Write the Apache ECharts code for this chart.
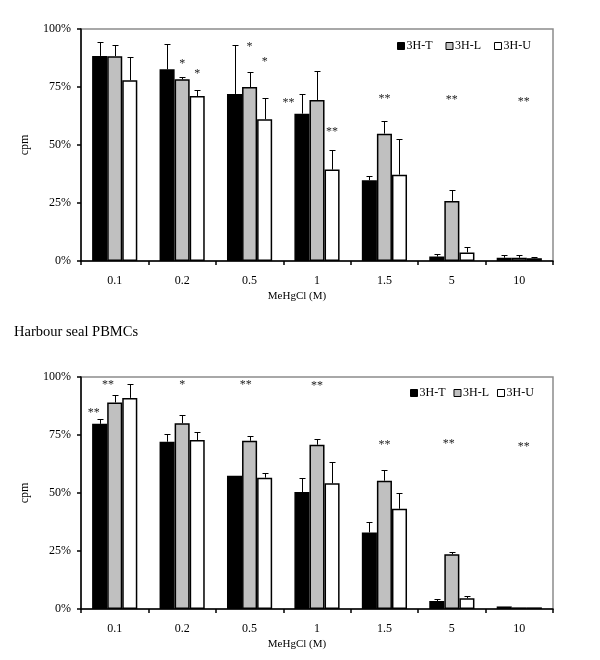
<!DOCTYPE html>
<html>
<head>
<meta charset="utf-8">
<script src="https://cdn.jsdelivr.net/npm/echarts@6/dist/echarts.min.js"></script>
<style>
html,body{margin:0;padding:0;background:#fff;}
#main{width:600px;height:660px;}
</style>
</head>
<body>
<div id="main"></div>
<script>
// ---------- DATA ----------
const categories = ['0.1', '0.2', '0.5', '1', '1.5', '5', '10'];
const seriesNames = ['3H-T', '3H-L', '3H-U'];
const yTicks = [0, 25, 50, 75, 100];

// Top chart
const topT = [88.4, 82.6, 72.0, 63.5, 34.8, 1.9, 1.4];
const topL = [88.3, 78.3, 75.0, 69.4, 54.9, 25.9, 1.4];
const topU = [77.9, 71.1, 61.1, 39.4, 37.2, 3.7, 1.2];
const topTErr = [6.0, 10.8, 21.0, 8.3, 1.8, 1.0, 1.0];
const topLErr = [5.0, 1.0, 6.6, 12.4, 5.3, 4.6, 1.0];
const topUErr = [10.0, 2.5, 9.0, 8.4, 15.3, 2.3, 0.6];
// significance marks: [category index, level %, bar slot (-1 T, 0 L, 1 U), text]
const topStars = [
  [1, 86.2, 0, '*'], [1, 81.9, 1, '*'],
  [2, 93.5, 0, '*'], [2, 87.1, 1, '*'],
  [3, 69.4, -1.9, '**'], [3, 56.9, 1, '**'],
  [4, 71.1, 0, '**'], [5, 70.7, 0, '**'], [6, 69.8, 0.3, '**']
];

// Bottom chart (Harbour seal PBMCs)
const botT = [79.8, 72.1, 57.4, 50.4, 33.0, 3.4, 1.1];
const botL = [89.0, 80.1, 72.5, 70.8, 55.3, 23.6, 0.7];
const botU = [91.0, 72.8, 56.6, 54.2, 43.2, 4.6, 0.7];
const botTErr = [1.9, 3.3, 0, 5.9, 4.3, 0.7, 0];
const botLErr = [3.3, 3.4, 2.1, 2.3, 4.7, 0.9, 0];
const botUErr = [6.1, 3.6, 1.9, 9.3, 6.6, 0.9, 0];
const botStars = [
  [0, 85.8, -1.4, '**'], [0, 97.8, -0.45, '**'],
  [1, 97.8, 0, '*'], [2, 97.8, -0.25, '**'], [3, 97.4, 0, '**'],
  [4, 72.0, 0, '**'], [5, 72.4, -0.2, '**'], [6, 71.1, 0.3, '**']
];

// ---------- STYLE ----------
const FONT = '"Liberation Serif", "Times New Roman", serif';
const CAT_GAP = 0.33;
const fills = ['#000000', '#c0c0c0', '#ffffff'];

const chart = echarts.init(document.getElementById('main'), null, {renderer: 'canvas'});

function xAxisFor(g) {
  return {
    type: 'category', gridIndex: g, data: categories,
    boundaryGap: true,
    axisLine: {lineStyle: {color: '#000', width: 1.5}},
    axisTick: {show: true, alignWithLabel: false, length: 4, lineStyle: {color: '#000', width: 1.5}},
    axisLabel: {color: '#000', fontFamily: FONT, fontSize: 12, margin: 14},
    name: 'MeHgCl (M)', nameLocation: 'middle', nameGap: 30,
    nameTextStyle: {color: '#000', fontFamily: FONT, fontSize: 11, padding: [0, 40, 0, 0]},
    splitLine: {show: false}
  };
}
function yAxisFor(g) {
  return {
    type: 'value', gridIndex: g, min: yTicks[0], max: yTicks[yTicks.length - 1], interval: 25,
    axisLine: {show: true, lineStyle: {color: '#000', width: 1.5}},
    axisTick: {show: true, length: 4, lineStyle: {color: '#000', width: 1.5}},
    axisLabel: {color: '#000', fontFamily: FONT, fontSize: 12, margin: 10, formatter: '{value}%'},
    splitLine: {show: false},
    name: 'cpm', nameLocation: 'middle', nameGap: 50, nameRotate: 90,
    nameTextStyle: {color: '#000', fontFamily: FONT, fontSize: 12}
  };
}

function barSeries(g, k, vals) {
  return {
    type: 'bar', name: seriesNames[k], xAxisIndex: g, yAxisIndex: g,
    data: vals, barGap: '0%', barCategoryGap: (CAT_GAP * 100) + '%',
    itemStyle: {color: fills[k], borderColor: '#000', borderWidth: 1.5},
    emphasis: {disabled: true}, z: 2
  };
}

function errSeries(g, k, vals, errs) {
  return {
    type: 'custom', xAxisIndex: g, yAxisIndex: g, z: 3, silent: true,
    data: vals.map((v, i) => [i, v]),
    encode: {x: 0, y: 1},
    renderItem: function (params, api) {
      const i = api.value(0), v = api.value(1), e = errs[params.dataIndex];
      if (!e) return null;
      const base = api.coord([i, v]);
      const top = api.coord([i, v + e]);
      const bw = api.size([1, 0])[0] * (1 - CAT_GAP) / 3;
      const x = Math.round(base[0] + (k - 1) * bw) + 0.5;
      const ty = Math.round(top[1]) + 0.5;
      return {
        type: 'group', children: [
          {type: 'line', shape: {x1: x, y1: base[1], x2: x, y2: ty}, style: {stroke: '#000', lineWidth: 1}},
          {type: 'line', shape: {x1: x - 3, y1: ty, x2: x + 3, y2: ty}, style: {stroke: '#000', lineWidth: 1}}
        ]
      };
    }
  };
}

function starSeries(g, stars) {
  return {
    type: 'custom', xAxisIndex: g, yAxisIndex: g, z: 4, silent: true,
    data: stars.map(s => [s[0], s[1]]),
    encode: {x: 0, y: 1},
    renderItem: function (params, api) {
      const s = stars[params.dataIndex];
      const p = api.coord([api.value(0), api.value(1)]);
      const bw = api.size([1, 0])[0] * (1 - CAT_GAP) / 3;
      return {
        type: 'text', x: p[0] + s[2] * bw, y: p[1] + 3,
        style: {text: s[3], fill: '#222', fontFamily: FONT, fontSize: 12, align: 'center', verticalAlign: 'middle'}
      };
    }
  };
}

function legendFor(left, top, gap) {
  return {
    left: left, top: top, orient: 'horizontal', selectedMode: false, padding: 0,
    icon: 'rect', itemWidth: 7, itemHeight: 7, itemGap: gap,
    data: seriesNames,
    itemStyle: {borderColor: '#000', borderWidth: 1},
    textStyle: {color: '#000', fontFamily: FONT, fontSize: 12, padding: [0, 0, 0, -3]}
  };
}

const option = {
  animation: false,
  backgroundColor: '#fff',
  title: {
    text: 'Harbour seal PBMCs', left: 9, top: 320,
    textStyle: {color: '#000', fontFamily: FONT, fontSize: 14.5, fontWeight: 'normal'}
  },
  legend: [legendFor(397, 40, 13), legendFor(410, 387, 8)],
  grid: [
    {left: 81, top: 29, width: 472, height: 232, show: true, borderColor: '#8c8c8c', borderWidth: 1.5, backgroundColor: 'transparent'},
    {left: 81, top: 377, width: 472, height: 232, show: true, borderColor: '#8c8c8c', borderWidth: 1.5, backgroundColor: 'transparent'}
  ],
  xAxis: [xAxisFor(0), xAxisFor(1)],
  yAxis: [yAxisFor(0), yAxisFor(1)],
  series: [
    barSeries(0, 0, topT), barSeries(0, 1, topL), barSeries(0, 2, topU),
    errSeries(0, 0, topT, topTErr), errSeries(0, 1, topL, topLErr), errSeries(0, 2, topU, topUErr),
    starSeries(0, topStars),
    barSeries(1, 0, botT), barSeries(1, 1, botL), barSeries(1, 2, botU),
    errSeries(1, 0, botT, botTErr), errSeries(1, 1, botL, botLErr), errSeries(1, 2, botU, botUErr),
    starSeries(1, botStars)
  ]
};
chart.setOption(option);
</script>
</body>
</html>
